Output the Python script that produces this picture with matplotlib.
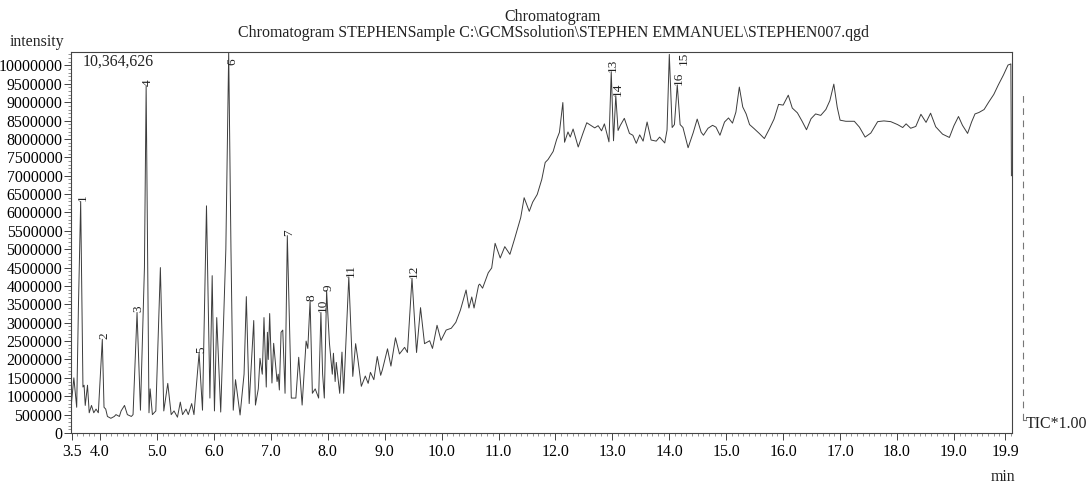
import numpy as np
import matplotlib.pyplot as plt
from matplotlib.ticker import FixedLocator, MultipleLocator

# retention time (min) and TIC intensity (millions of counts)
ret_time = [
    3.50, 3.54, 3.59, 3.62, 3.66, 3.70, 3.72, 3.74, 3.78, 3.81, 3.85, 3.89, 3.93, 3.97,
    4.04, 4.07, 4.10, 4.13, 4.19, 4.25, 4.28, 4.34, 4.37, 4.43, 4.48, 4.55, 4.58, 4.65,
    4.71, 4.78, 4.81, 4.84, 4.86, 4.88, 4.92, 4.98, 5.06, 5.12, 5.19, 5.25, 5.30, 5.36,
    5.41, 5.45, 5.51, 5.55, 5.61, 5.65, 5.74, 5.80, 5.87, 5.93, 5.97, 6.01, 6.05, 6.12,
    6.21, 6.26, 6.30, 6.34, 6.38, 6.46, 6.53, 6.57, 6.62, 6.70, 6.73, 6.78, 6.81, 6.85,
    6.88, 6.92, 6.94, 6.955, 6.98, 7.02, 7.05, 7.11, 7.13, 7.15, 7.18, 7.21, 7.25, 7.29,
    7.36, 7.44, 7.49, 7.55, 7.62, 7.65, 7.69, 7.73, 7.78, 7.84, 7.88, 7.91, 7.94, 7.98,
    8.03, 8.08, 8.10, 8.13, 8.15, 8.21, 8.25, 8.28, 8.37, 8.44, 8.49, 8.53, 8.59, 8.66,
    8.71, 8.75, 8.81, 8.87, 8.93, 8.96, 9.05, 9.11, 9.19, 9.26, 9.35, 9.40, 9.48, 9.56,
    9.63, 9.70, 9.79, 9.84, 9.92, 9.99, 10.08, 10.17, 10.25, 10.33, 10.43, 10.48, 10.53,
    10.57, 10.65, 10.67, 10.72, 10.82, 10.88, 10.94, 11.03, 11.11, 11.20, 11.28, 11.34,
    11.39, 11.45, 11.54, 11.60, 11.68, 11.76, 11.82, 11.87, 11.96, 12.02, 12.07, 12.13,
    12.16, 12.22, 12.26, 12.31, 12.40, 12.48, 12.55, 12.63, 12.69, 12.75, 12.81, 12.86,
    12.94, 12.98, 13.02, 13.06, 13.10, 13.14, 13.21, 13.30, 13.36, 13.42, 13.48, 13.54,
    13.61, 13.68, 13.77, 13.83, 13.92, 13.96, 14.00, 14.05, 14.09, 14.14, 14.19, 14.24,
    14.33, 14.42, 14.49, 14.56, 14.60, 14.68, 14.76, 14.82, 14.89, 14.97, 15.04, 15.11,
    15.17, 15.23, 15.29, 15.35, 15.41, 15.49, 15.58, 15.67, 15.76, 15.84, 15.92, 16.00,
    16.09, 16.16, 16.25, 16.33, 16.41, 16.49, 16.57, 16.66, 16.75, 16.82, 16.89, 16.95,
    17.00, 17.10, 17.25, 17.34, 17.44, 17.54, 17.66, 17.77, 17.89, 18.01, 18.10, 18.16,
    18.24, 18.33, 18.42, 18.51, 18.59, 18.68, 18.80, 18.92, 19.00, 19.08, 19.15, 19.24,
    19.31, 19.37, 19.44, 19.53, 19.61, 19.70, 19.78, 19.87, 19.95, 20.00, 20.01,
]
tic_m = [
    0.85, 1.50, 0.70, 3.40, 6.30, 1.25, 1.30, 0.75, 1.30, 0.55, 0.75, 0.55, 0.65, 0.55,
    2.55, 0.70, 0.65, 0.45, 0.40, 0.45, 0.50, 0.45, 0.60, 0.75, 0.50, 0.45, 0.50, 3.28,
    0.62, 4.50, 9.43, 4.00, 0.55, 1.20, 0.50, 0.60, 4.50, 0.60, 1.35, 0.50, 0.60, 0.43,
    0.84, 0.50, 0.65, 0.50, 0.80, 0.50, 2.17, 0.62, 6.18, 0.95, 4.28, 0.60, 3.14, 0.57,
    5.00, 10.36, 5.00, 0.62, 1.45, 0.49, 1.60, 3.71, 0.80, 3.06, 0.76, 1.20, 2.03, 1.60,
    3.14, 1.25, 2.74, 2.00, 3.25, 1.36, 2.44, 1.40, 1.60, 1.17, 2.74, 2.80, 1.08, 5.37,
    0.95, 0.95, 2.06, 0.76, 2.50, 2.30, 3.60, 1.08, 1.20, 0.95, 3.28, 1.60, 0.95, 3.87,
    2.44, 1.60, 2.17, 1.40, 1.92, 1.08, 2.20, 1.08, 4.25, 1.54, 2.43, 2.00, 1.27, 1.55,
    1.35, 1.65, 1.45, 2.08, 1.57, 1.72, 2.29, 1.82, 2.59, 2.15, 2.33, 2.19, 4.21, 2.19,
    3.41, 2.43, 2.51, 2.30, 2.93, 2.52, 2.80, 2.85, 3.01, 3.34, 3.89, 3.40, 3.70,
    3.40, 4.02, 4.05, 3.94, 4.36, 4.49, 5.16, 4.76, 5.07, 4.86, 5.27, 5.59,
    5.86, 6.40, 6.03, 6.28, 6.49, 6.90, 7.36, 7.44, 7.66, 7.98, 8.18, 8.99,
    7.91, 8.19, 8.05, 8.27, 7.78, 8.14, 8.44, 8.36, 8.30, 8.36, 8.22, 8.41,
    7.92, 9.83, 7.95, 9.18, 8.23, 8.37, 8.56, 8.15, 8.10, 7.88, 8.11, 7.94,
    8.46, 7.97, 7.94, 8.05, 7.89, 8.24, 10.30, 8.31, 8.39, 9.47, 8.39, 8.31,
    7.76, 8.17, 8.54, 8.18, 8.10, 8.29, 8.37, 8.32, 8.10, 8.46, 8.57, 8.43,
    8.73, 9.41, 8.87, 8.68, 8.39, 8.28, 8.15, 8.01, 8.28, 8.54, 8.94, 8.92,
    9.19, 8.84, 8.71, 8.49, 8.25, 8.55, 8.68, 8.64, 8.80, 9.04, 9.49, 8.86,
    8.51, 8.48, 8.48, 8.32, 8.05, 8.16, 8.47, 8.49, 8.47, 8.39, 8.31, 8.41,
    8.29, 8.34, 8.67, 8.45, 8.70, 8.33, 8.13, 8.04, 8.36, 8.61, 8.37, 8.15,
    8.46, 8.68, 8.72, 8.80, 9.00, 9.21, 9.47, 9.74, 10.01, 10.04, 7.00,
]

# numbered peaks
peak_no = list(range(1, 17))
peak_time = [3.66, 4.04, 4.65, 4.81, 5.74, 6.26, 7.29, 7.69, 7.98, 7.88,
             8.37, 9.48, 12.98, 13.06, 14.00, 14.14]
peak_height_m = [6.30, 2.55, 3.28, 9.43, 2.17, 10.36, 5.37, 3.60, 3.87, 3.28,
                 4.25, 4.21, 9.83, 9.18, 10.30, 9.47]

y_max = 10364626
x_ticks = [3.5, 4.0, 5.0, 6.0, 7.0, 8.0, 9.0, 10.0, 11.0, 12.0, 13.0, 14.0,
           15.0, 16.0, 17.0, 18.0, 19.0, 19.9]
y_ticks = list(range(0, 10000001, 500000))

plt.rcParams['font.family'] = ['Liberation Serif', 'DejaVu Serif']
plt.rcParams['font.size'] = 11.4

W, H = 1091, 483
fig = plt.figure(figsize=(W / 100, H / 100), dpi=100)
ax = fig.add_axes([71 / W, 50 / H, 941 / W, 381 / H])

t = np.array(ret_time)
y = np.array(tic_m) * 1e6
ax.plot(t, y, color='#3c3c3c', lw=0.7)

ax.set_xlim(3.49, 20.02)
ax.set_ylim(0, y_max)

ax.xaxis.set_major_locator(FixedLocator(x_ticks))
ax.set_xticklabels([f'{v:.1f}' for v in x_ticks])
ax.xaxis.set_minor_locator(MultipleLocator(0.1))
ax.yaxis.set_major_locator(FixedLocator(y_ticks))
ax.set_yticklabels([str(v) for v in y_ticks])
ax.yaxis.set_minor_locator(MultipleLocator(100000))

ax.tick_params(which='major', direction='out', length=5, width=0.7, color='#444', pad=1.2)
ax.tick_params(which='minor', direction='out', length=2.5, width=0.5, color='#666')
ax.tick_params(axis='x', which='major', pad=3)
for s in ax.spines.values():
    s.set_linewidth(0.8)
    s.set_color('#444')

# peak numbers, rotated like the instrument print
label_shift = {6: (0.07, -0.35e6), 15: (0.25, -0.30e6)}
for n, pt, ph in zip(peak_no, peak_time, peak_height_m):
    dx, dy = label_shift.get(n, (0.03, 0.0))
    ax.text(pt + dx, ph * 1e6 + dy, str(n), rotation=90, ha='center', va='bottom',
            fontsize=9.5, color='#222', clip_on=False)

ax.text(0.012, 0.974, f'{y_max:,}', transform=ax.transAxes, ha='left', va='center',
        color='#222')

fig.text(10 / W, 1 - 42 / H, 'intensity', ha='left', va='center', color='#222')
fig.text(553 / W, 1 - 17 / H, 'Chromatogram', ha='center', va='center', color='#222')
fig.text(553 / W, 1 - 33 / H,
         'Chromatogram STEPHENSample C:\\GCMSsolution\\STEPHEN EMMANUEL\\STEPHEN007.qgd',
         ha='center', va='center', color='#222')
fig.text(1003 / W, 1 - 477 / H, 'min', ha='center', va='center', color='#222')

# TIC trace marker on the right
ax.plot([1.0118, 1.0118], [0.034, 0.887], transform=ax.transAxes, clip_on=False,
        color='#777', lw=0.8, ls=(0, (6, 5)))
ax.plot([1.0118, 1.0150], [0.034, 0.034], transform=ax.transAxes, clip_on=False,
        color='#777', lw=0.8)
fig.text(1026 / W, 1 - 424 / H, 'TIC*1.00', ha='left', va='center', color='#222')

fig.savefig('out.png', dpi=100)
